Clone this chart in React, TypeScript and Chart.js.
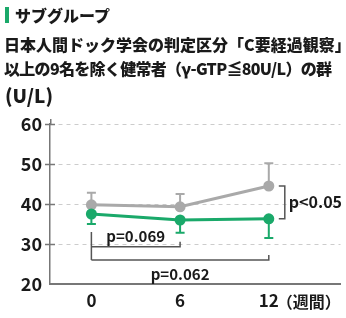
import React, { useEffect, useRef } from "react";
import { Chart, registerables } from "chart.js";

Chart.register(...registerables);

const weeks = [0, 6, 12];
const weekLabels = ["0", "6", "12"];
const unitLabel = "（週間）";
const grayMean = [39.8, 39.3, 44.5];
const grayUpper = [42.8, 42.5, 50.2];
const greenMean = [37.5, 36.0, 36.3];
const greenLower = [35.0, 32.8, 31.5];
const yTicks = [20, 30, 40, 50, 60];

const GRAY = "#a9a9a9";
const GREEN = "#1aa96a";
const DARK = "#555555";
const FONT_NUM = "'Noto Sans CJK JP', 'Noto Sans', sans-serif";

const overlay = {
  id: "overlay",
  beforeDatasetsDraw(chart: any) {
    const { ctx } = chart;
    const xs = chart.scales.x;
    const ys = chart.scales.y;
    ctx.save();
    ctx.lineWidth = 2;
    const cap = 4.5;
    const bar = (x: number, a: number, b: number, color: string) => {
      ctx.strokeStyle = color;
      ctx.beginPath();
      ctx.moveTo(x, ys.getPixelForValue(a));
      ctx.lineTo(x, ys.getPixelForValue(b));
      ctx.moveTo(x - cap, ys.getPixelForValue(b));
      ctx.lineTo(x + cap, ys.getPixelForValue(b));
      ctx.stroke();
    };
    weeks.forEach((w, i) => {
      const x = xs.getPixelForValue(w);
      bar(x, grayMean[i], grayUpper[i], GRAY);
      bar(x, greenMean[i], greenLower[i], GREEN);
    });
    ctx.restore();
  },
  afterDraw(chart: any) {
    const { ctx, chartArea } = chart;
    const xs = chart.scales.x;
    const ys = chart.scales.y;
    ctx.save();
    ctx.strokeStyle = "#777";
    ctx.lineWidth = 1.5;
    ctx.beginPath();
    yTicks.slice(1).forEach((v) => {
      const y = Math.round(ys.getPixelForValue(v)) + 0.5;
      ctx.moveTo(chartArea.left - 5, y);
      ctx.lineTo(chartArea.left + 5, y);
    });
    ctx.moveTo(chartArea.left + 0.75, chartArea.top);
    ctx.lineTo(chartArea.left + 0.75, chartArea.top - 5);
    ctx.stroke();

    const x0 = xs.getPixelForValue(weeks[0]);
    const x6 = xs.getPixelForValue(weeks[1]);
    const x12 = xs.getPixelForValue(weeks[2]);
    const py = (v: number) => ys.getPixelForValue(v);
    ctx.strokeStyle = DARK;
    ctx.lineWidth = 1.5;
    ctx.beginPath();
    ctx.moveTo(x0, py(33));
    ctx.lineTo(x0, py(26));
    ctx.moveTo(x0, py(29.3));
    ctx.lineTo(x6, py(29.3));
    ctx.lineTo(x6, py(29.3) - 5);
    ctx.moveTo(x0, py(26));
    ctx.lineTo(x12, py(26));
    ctx.lineTo(x12, py(26) - 5);
    const bx = x12 + 16;
    ctx.moveTo(x12 + 10, py(grayMean[2]));
    ctx.lineTo(bx, py(grayMean[2]));
    ctx.lineTo(bx, py(greenMean[2]));
    ctx.lineTo(x12 + 10, py(greenMean[2]));
    ctx.stroke();

    ctx.fillStyle = "#1a1a1a";
    ctx.font = `bold 15px ${FONT_NUM}`;
    ctx.textBaseline = "middle";
    ctx.textAlign = "center";
    ctx.fillText("p=0.069", (x0 + x6) / 2, py(32));
    ctx.fillText("p=0.062", (x0 + x12) / 2, py(22.5));
    ctx.textAlign = "left";
    ctx.font = `bold 16px ${FONT_NUM}`;
    ctx.fillText("p<0.05", bx + 4, (py(grayMean[2]) + py(greenMean[2])) / 2);

    ctx.font = `bold 16px ${FONT_NUM}`;
    ctx.fillText(unitLabel, x12 + 8, chartArea.bottom + 18);
    ctx.restore();
  },
};

export default function App() {
  const ref = useRef<HTMLCanvasElement>(null);
  useEffect(() => {
    document.body.style.margin = "0";
    const chart = new Chart(ref.current as HTMLCanvasElement, {
      type: "line",
      data: {
        datasets: [
          {
            label: "green",
            data: weeks.map((w, i) => ({ x: w, y: greenMean[i] })),
            borderColor: GREEN,
            backgroundColor: GREEN,
            borderWidth: 3,
            pointRadius: 5.5,
            pointBorderWidth: 0,
          },
          {
            label: "gray",
            data: weeks.map((w, i) => ({ x: w, y: grayMean[i] })),
            borderColor: GRAY,
            backgroundColor: GRAY,
            borderWidth: 3,
            pointRadius: 5.5,
            pointBorderWidth: 0,
          },
        ],
      },
      options: {
        animation: false,
        responsive: false,
        layout: { padding: { top: 124, right: 0, left: 0, bottom: 0 } },
        plugins: { legend: { display: false }, tooltip: { enabled: false }, title: { display: false } },
        scales: {
          x: {
            type: "linear",
            min: -2.8,
            max: 16.85,
            afterBuildTicks: (s: any) => {
              s.ticks = weeks.map((v) => ({ value: v }));
            },
            afterFit: (s: any) => {
              s.height = 34;
              s.paddingLeft = 0;
              s.paddingRight = 0;
            },
            ticks: {
              callback: (v: any) => weekLabels[weeks.indexOf(Number(v))] ?? "",
              color: "#1a1a1a",
              font: { family: FONT_NUM, size: 17, weight: "bold" },
              padding: 6,
              maxRotation: 0,
              autoSkip: false,
            },
            grid: { display: true, color: "rgba(0,0,0,0)", drawTicks: false },
            border: { display: true, color: "#777", width: 2 },
          },
          y: {
            min: 20,
            max: 60,
            afterBuildTicks: (s: any) => {
              s.ticks = yTicks.map((v) => ({ value: v }));
            },
            afterFit: (s: any) => {
              s.width = 50;
            },
            ticks: {
              color: "#1a1a1a",
              font: { family: FONT_NUM, size: 18, weight: "bold" },
              padding: 8,
            },
            grid: { color: "#cccccc", lineWidth: 1, drawTicks: false },
            border: { display: true, color: "#777", width: 1.5, dash: [4, 4] },
          },
        },
      },
      plugins: [overlay],
    } as any);
    return () => chart.destroy();
  }, []);

  const txt: React.CSSProperties = {
    position: "absolute",
    margin: 0,
    whiteSpace: "nowrap",
    fontFamily: "'Noto Sans CJK JP', sans-serif",
    fontWeight: 900,
    color: "#1a1a1a",
  };
  return (
    <div style={{ position: "fixed", left: 0, top: 0, width: 346, height: 318, background: "#fff" }}>
      <canvas ref={ref} width={346} height={318} style={{ position: "absolute", left: 0, top: 0 }} />
      <div style={{ position: "absolute", left: 5, top: 7, width: 4, height: 16, background: GREEN }} />
      <div style={{ ...txt, left: 15, top: 5, fontSize: 16, lineHeight: "20px" }}>サブグループ</div>
      <div style={{ ...txt, left: 4, top: 34, fontSize: 16, lineHeight: "20px" }}>日本人間ドック学会の判定区分「C要経過観察」</div>
      <div style={{ ...txt, left: 4, top: 58, fontSize: 16, lineHeight: "20px", letterSpacing: "-0.7px" }}>以上の9名を除く健常者（γ-GTP≦80U/L）の群</div>
      <div style={{ ...txt, left: 5, top: 84, fontSize: 19, lineHeight: "22px" }}>(U/L)</div>
    </div>
  );
}
